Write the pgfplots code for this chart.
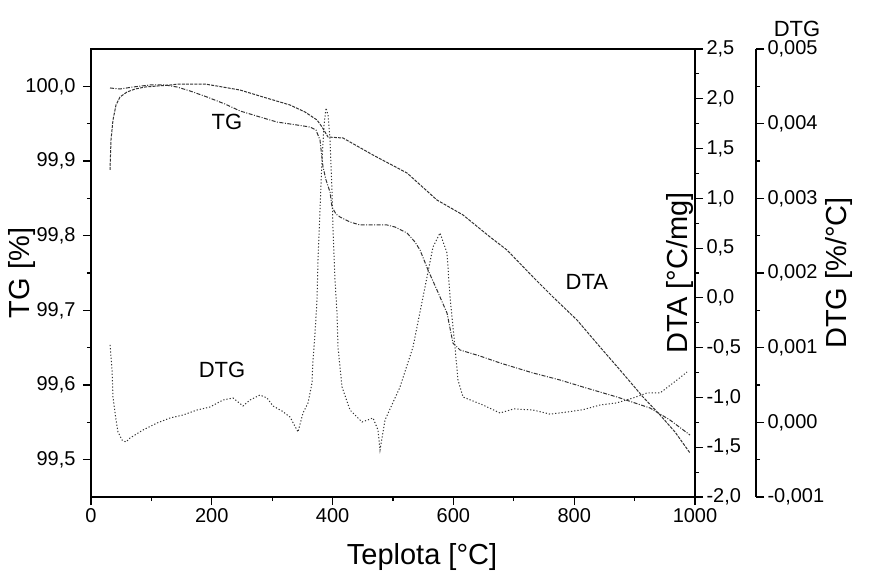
\documentclass[border=0pt]{standalone}
\usepackage{fontspec}
\setmainfont{Liberation Sans}
\usepackage{pgfplots}
\pgfplotsset{compat=1.18}
\newcommand{\labfont}{\fontsize{29bp}{33bp}\selectfont}
\newcommand{\annfont}{\fontsize{22bp}{25bp}\selectfont}
\pgfplotsset{
  common/.style={
    scale only axis, width=604bp, height=448bp,
    xmin=0, xmax=1000, clip=false,
    tick align=outside,
    major tick length=8bp, minor tick length=4bp,
    axis line style={line width=1.3bp},
    every tick/.append style={line width=1.2bp, black},
    tick label style={font=\fontsize{20bp}{23bp}\selectfont},
    /pgf/number format/assume math mode=true,
    scaled y ticks=false,
  },
  curve/.style={black!80, line width=1bp},
}
\begin{document}
\begin{tikzpicture}
\useasboundingbox (-91bp,-81bp) rectangle (781bp,497bp);
% ---- main axis: TG ----
\begin{axis}[common,
  ymin=99.45, ymax=100.05,
  xtick={0,200,400,600,800,1000}, minor x tick num=1,
  ytick={99.5,99.6,99.7,99.8,99.9,100}, minor y tick num=1,
  xtick pos=left, ytick pos=left,
  xticklabel style={/pgf/number format/1000 sep={}},
  yticklabel style={xshift=-4bp, /pgf/number format/.cd, use comma, fixed, fixed zerofill, precision=1},
  xlabel={Teplota [°C]}, ylabel={TG [\%]},
  every axis x label/.style={at={(rel axis cs:0,0)}, xshift=331bp, yshift=-60bp, anchor=center, font=\labfont},
  every axis y label/.style={at={(rel axis cs:0,0.5)}, xshift=-69bp, rotate=90, anchor=center, font=\labfont},
]
\addplot[curve, dash pattern=on 4bp off 1.5bp on 1bp off 1.5bp] coordinates {
(31.5,99.9978) (48.0,99.9964) (69.5,99.9991) (97.7,100.0018) (122.5,100.0018)
(142.4,99.9991) (163.9,99.9938) (192.1,99.9857) (221.9,99.9763) (246.7,99.9670)
(279.8,99.9589) (307.9,99.9522) (341.1,99.9482) (362.6,99.9455) (372.5,99.9415)
(379.1,99.9281) (384.1,99.8920) (389.1,99.8746) (395.7,99.8585) (399.0,99.8384)
(405.6,99.8290) (412.3,99.8250) (428.8,99.8183) (445.4,99.8143) (490.1,99.8143)
(503.3,99.8116) (523.2,99.8036) (536.4,99.7915) (544.7,99.7808) (558.0,99.7540)
(572.8,99.7272) (589.4,99.6964) (599.3,99.6562) (610.9,99.6469) (644.0,99.6388)
(677.2,99.6295) (731.8,99.6161) (776.5,99.6067) (814.6,99.5973) (870.9,99.5839)
(925.5,99.5692) (958.6,99.5531) (991.7,99.5330)
};
\node[font=\annfont] at (axis cs:225,99.952) {TG};
\node[font=\annfont] at (axis cs:821,99.738) {DTA};
\node[font=\annfont] at (axis cs:217,99.620) {DTG};
\end{axis}
% ---- DTA axis ----
\begin{axis}[common,
  ymin=-2, ymax=2.5,
  hide x axis, axis y line*=right,
  ytick={-2,-1.5,-1,-0.5,0,0.5,1,1.5,2,2.5}, minor y tick num=1,
  yticklabel style={/pgf/number format/.cd, use comma, fixed, fixed zerofill, precision=1},
  ylabel={DTA [°C/mg]},
  every axis y label/.style={at={(rel axis cs:1,0.5)}, rotate=90, anchor=south, inner sep=1bp, font=\labfont},
]
\addplot[curve, dash pattern=on 3bp off 1.2bp] coordinates {
(31.5,1.285) (33.1,1.586) (36.4,1.787) (41.4,1.9375) (48.0,2.018) (59.6,2.068)
(72.8,2.098) (89.4,2.118) (109.3,2.128) (130.8,2.138) (144.0,2.148) (188.7,2.148)
(208.6,2.128) (246.7,2.088) (284.8,2.018) (329.5,1.9375) (354.3,1.867) (374.2,1.787)
(382.5,1.717) (392.4,1.616) (417.2,1.606) (466.9,1.435) (523.2,1.2545) (572.8,0.983)
(615.9,0.833) (660.6,0.612) (688.7,0.481) (731.8,0.210) (764.9,0.009) (804.6,-0.222)
(842.7,-0.493) (875.8,-0.724) (913.9,-0.9955) (942.1,-1.176) (966.9,-1.347) (991.7,-1.558)
};
\end{axis}
% ---- DTG axis (offset to the right) ----
\begin{axis}[common, width=665bp, xmax=1100.9934,
  ymin=-0.001, ymax=0.005,
  hide x axis, axis y line*=right,
  ytick={-0.001,0,0.001,0.002,0.003,0.004,0.005}, minor y tick num=1,
  yticklabel style={/pgf/number format/.cd, use comma, fixed, fixed zerofill, precision=3},
  ylabel={DTG [\%/°C]},
  every axis y label/.style={at={(rel axis cs:1,0.5)}, xshift=83bp, rotate=90, anchor=center, font=\labfont},
]
\addplot[curve, dash pattern=on 1.2bp off 2bp] coordinates {
(31.5,0.001036) (34.8,0.000701) (36.4,0.000339) (41.4,0.000031) (44.7,-0.000129)
(51.3,-0.000237) (57.9,-0.000263) (64.6,-0.000210) (86.1,-0.000103) (109.3,-0.000009)
(130.8,0.000058) (152.3,0.000098) (175.5,0.000165) (197.0,0.000205) (218.5,0.000299)
(235.1,0.000326) (251.7,0.000219) (263.2,0.000299) (279.8,0.000366) (291.4,0.000326)
(301.3,0.000219) (316.2,0.000152) (329.5,0.000071) (342.7,-0.000129) (351.0,0.000125)
(359.3,0.000259) (365.9,0.000527) (367.5,0.000835) (370.9,0.001196) (374.2,0.001638)
(375.8,0.002174) (379.1,0.002844) (382.5,0.003513) (385.8,0.003982) (389.1,0.004210)
(392.4,0.004116) (395.7,0.003781) (399.0,0.003112) (400.7,0.002576) (404.0,0.001906)
(407.3,0.001464) (408.9,0.001009) (415.6,0.000473) (428.8,0.000165) (448.7,0.000004)
(466.9,0.000058) (475.2,-0.000103) (478.5,-0.000371) (486.8,0.000031) (511.6,0.000473)
(533.1,0.001009) (549.7,0.001679) (566.2,0.002348) (577.8,0.002536) (589.4,0.002268)
(594.4,0.001679) (602.6,0.001009) (607.6,0.000567) (615.9,0.000339) (649.0,0.000232)
(677.2,0.000125) (700.0,0.000180) (731.8,0.000165) (760.0,0.000110) (788.1,0.000138)
(815.0,0.000170) (842.7,0.000232) (870.0,0.000260) (897.4,0.000326) (920.5,0.000393)
(942.1,0.000393) (970.2,0.000567) (986.8,0.000674)
};
\node[font=\annfont] at (rel axis cs:1.0617,1.045) {DTG};
\end{axis}
\end{tikzpicture}
\end{document}
